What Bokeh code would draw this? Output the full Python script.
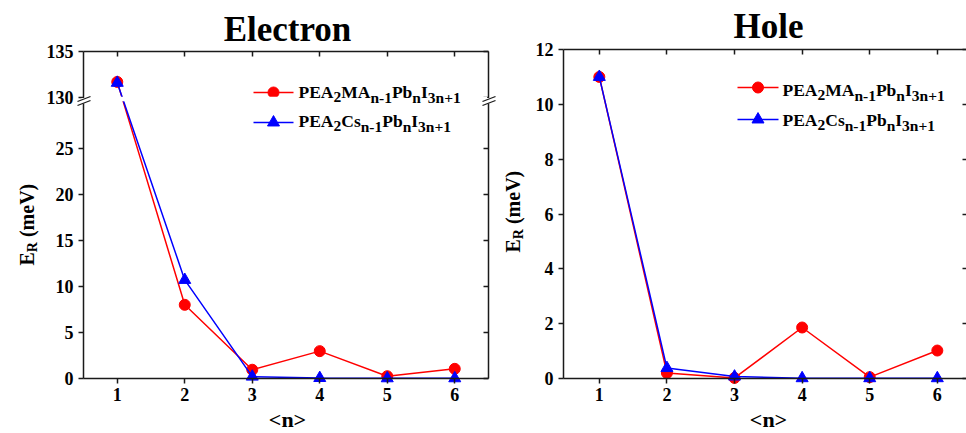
import numpy as np
from bokeh.plotting import figure
from bokeh.models import (LinearAxis, FixedTicker, Label, Arrow, BoxAnnotation,
                          Range1d, Grid)
from bokeh.layouts import row
from bokeh.embed import file_html
from bokeh.resources import INLINE

# ---------------- data ----------------
n_values = [1, 2, 3, 4, 5, 6]
electron_ma = [131.7, 8.0, 0.95, 2.97, 0.25, 1.05]
electron_cs = [131.6, 10.7, 0.2, 0.05, 0.02, 0.02]
hole_ma = [11.0, 0.2, 0.02, 1.86, 0.05, 1.02]
hole_cs = [11.0, 0.38, 0.07, 0.01, 0.01, 0.01]
x_ticks = [1, 2, 3, 4, 5, 6]
electron_y_ticks = [0, 5, 10, 15, 20, 25, 130, 135]
hole_y_ticks = [0, 2, 4, 6, 8, 10, 12]
titles = ["Electron", "Hole"]
x_title = "<n>"
series_names = [[("PEA", 0), ("2", 1), ("MA", 0), ("n-1", 1), ("Pb", 0), ("n", 1), ("I", 0), ("3n+1", 1)],
                [("PEA", 0), ("2", 1), ("Cs", 0), ("n-1", 1), ("Pb", 0), ("n", 1), ("I", 0), ("3n+1", 1)]]

FONT = "Liberation Serif"
RED = "#ff0000"
BLUE = "#0000ff"
AXIS = "#1a1a1a"
H = 433
BASELINE_FIX = 0.34   # observed offset of the alphabetic baseline, in em

# broken electron axis: lower 0..30, upper 130..135
BREAK_LO = 30.0
BREAK_SHIFT = 99.5


def broken(v):
    return v if v <= BREAK_LO else v - BREAK_SHIFT


# Times-Bold advance widths (per 1000 em), metric-compatible with Liberation Serif Bold
W = {'P': 611, 'E': 667, 'A': 722, 'M': 944, 'C': 722, 's': 389, 'n': 556, '-': 333,
     '1': 500, 'b': 556, 'I': 389, '3': 500, '+': 570, '2': 500, ' ': 250, '(': 333,
     ')': 333, 'm': 833, 'e': 444, 'V': 722, 'R': 722}


def tw(text, size):
    return sum(W.get(c, 500) for c in text) * size / 1000.0


class Panel:
    """Figure whose frame fills the whole canvas; axes sit at fixed locations."""

    def __init__(self, origin, width, box, xin, yin):
        bl, br, bt, bb = box
        self.origin, self.width = origin, width
        xpx = (xin[1] - xin[0]) / (br - bl)
        ypx = (yin[1] - yin[0]) / (bb - bt)
        self.x0 = xin[0] - (bl - origin) * xpx
        self.x1 = xin[0] + (origin + width - bl) * xpx
        self.y1 = yin[1] + bt * ypx
        self.y0 = yin[0] - (H - bb) * ypx
        self.xin, self.yin = xin, yin
        p = figure(width=width, height=H, x_range=Range1d(self.x0, self.x1),
                   y_range=Range1d(self.y0, self.y1),
                   output_backend="svg", toolbar_location=None,
                   x_axis_location=None, y_axis_location=None,
                   min_border=0, min_border_left=0, min_border_right=0,
                   min_border_top=0, min_border_bottom=0)
        p.outline_line_color = None
        p.center = [r for r in p.center if not isinstance(r, Grid)]
        p.background_fill_color = "white"
        p.border_fill_color = "white"
        self.p = p

    def X(self, cx):
        return self.x0 + (cx - self.origin) / self.width * (self.x1 - self.x0)

    def Y(self, cy):
        return self.y1 - cy / H * (self.y1 - self.y0)

    def text(self, cx, cy, txt, size, align="left", baseline="alphabetic", angle=0.0):
        if baseline == "alphabetic":
            if angle == 0.0:
                cy -= BASELINE_FIX * size
            else:
                cx -= BASELINE_FIX * size
        self.p.add_layout(Label(x=self.X(cx), y=self.Y(cy), text=txt, text_font=FONT,
                                text_font_size=f"{size}px", text_font_style="bold",
                                text_color="black", text_align=align,
                                text_baseline=baseline, angle=angle))

    def seg(self, x0, y0, x1, y1, color=AXIS, width=1.3):
        self.p.add_layout(Arrow(end=None, x_start=self.X(x0), y_start=self.Y(y0),
                                x_end=self.X(x1), y_end=self.Y(y1),
                                line_color=color, line_width=width))


def make_axis(ticks, loc, bounds, labels=True, tin=0, tout=5, line=True,
              overrides=None, standoff=5):
    ax = LinearAxis(fixed_location=loc, bounds=bounds)
    ax.ticker = FixedTicker(ticks=ticks)
    ax.minor_tick_line_color = None
    ax.major_tick_in = tin
    ax.major_tick_out = tout
    ax.major_tick_line_color = AXIS
    ax.major_tick_line_width = 1.5
    ax.axis_line_color = AXIS if line else None
    ax.axis_line_width = 1.5
    if labels:
        ax.major_label_text_font = FONT
        ax.major_label_text_font_size = "18px"
        ax.major_label_text_font_style = "bold"
        ax.major_label_text_color = "black"
        ax.major_label_standoff = standoff
    else:
        ax.major_label_text_color = None
    if overrides:
        ax.major_label_overrides = overrides
    return ax


def add_axes(pn, yticks, right_x, overrides=None, right_line=True):
    p = pn.p
    xb = (pn.xin[0], right_x)
    yb = (pn.yin[0], pn.yin[1])
    p.add_layout(make_axis(x_ticks, pn.yin[0], xb, tout=5, standoff=4), "below")
    p.add_layout(make_axis(x_ticks, pn.yin[1], xb, labels=False, tin=5, tout=0), "above")
    p.add_layout(make_axis(yticks, pn.xin[0], yb, tout=5, overrides=overrides, standoff=5), "left")
    p.add_layout(make_axis(yticks, right_x, yb, labels=False, tin=5, tout=0,
                           line=right_line), "right")


def legend(pn, x_line0, x_line1, x_text, rows):
    for (line_y, base_y, color, marker, runs) in rows:
        xs = [pn.X(x_line0), pn.X(x_line1)]
        ys = [pn.Y(line_y)] * 2
        pn.p.line(xs, ys, line_color=color, line_width=1.5)
        pn.p.scatter([pn.X((x_line0 + x_line1) / 2)], [pn.Y(line_y)], marker=marker,
                     size=11 if marker == "circle" else 12, fill_color=color, line_color=color)
        cx = x_text
        for txt, sub in runs:
            size = 15.5 if sub else 17.5
            pn.text(cx, base_y + (5 if sub else 0), txt, size)
            cx += tw(txt, size)


def ylabel(pn, base_x, start_y):
    a = np.pi / 2
    pn.text(base_x, start_y, "E", 20, angle=a)
    y = start_y - tw("E", 20)
    pn.text(base_x + 4, y, "R", 14, angle=a)
    y -= tw("R", 14) + tw(" ", 20)
    pn.text(base_x, y, "(meV)", 20, angle=a)


# ---------------- left panel: Electron ----------------
L = Panel(0, 500, (83, 488, 51, 378), (0.5, 6.5), (0.0, broken(135)))
pl = L.p
ov = {broken(v): str(v) for v in electron_y_ticks}
add_axes(L, [broken(v) for v in electron_y_ticks], 6.5, overrides=ov)

pl.line(n_values, [broken(v) for v in electron_ma], line_color=RED, line_width=1.5)
pl.scatter(n_values, [broken(v) for v in electron_ma], marker="circle", size=11,
           fill_color=RED, line_color=RED)
pl.line(n_values, [broken(v) for v in electron_cs], line_color=BLUE, line_width=1.5)
pl.scatter(n_values, [broken(v) for v in electron_cs], marker="triangle", size=12,
           fill_color=BLUE, line_color=BLUE)

# gap in the lines at the axis break
pl.add_layout(BoxAnnotation(left=0.52, right=6.48, bottom=30.1, top=30.6,
                            fill_color="white", fill_alpha=1.0, line_color=None))
# break marks on both vertical axes
for ax_x in (83, 488):
    L.seg(ax_x, 97.5, ax_x, 103.0, color="white", width=4)
    L.seg(ax_x - 6, 101, ax_x + 7, 96)
    L.seg(ax_x - 6, 105, ax_x + 7, 100)

L.text(287, 41, titles[0], 35, align="center")
L.text(287, 419, x_title, 22, align="center", baseline="middle")
ylabel(L, 33, 265)
legend(L, 253, 293, 298, [(92, 97, RED, "circle", series_names[0]),
                          (122, 126, BLUE, "triangle", series_names[1])])

# ---------------- right panel: Hole ----------------
R = Panel(500, 466, (563, 563 + 6 * 67.6, 49, 378), (0.47, 6.47), (0.0, 12.0))
pr = R.p
right_edge = R.X(967)
add_axes(R, hole_y_ticks, right_edge, right_line=False)

pr.line(n_values, hole_ma, line_color=RED, line_width=1.5)
pr.scatter(n_values, hole_ma, marker="circle", size=11, fill_color=RED, line_color=RED)
pr.line(n_values, hole_cs, line_color=BLUE, line_width=1.5)
pr.scatter(n_values, hole_cs, marker="triangle", size=12, fill_color=BLUE, line_color=BLUE)

R.text(768, 38, titles[1], 35, align="center")
R.text(768, 419, x_title, 22, align="center", baseline="middle")
ylabel(R, 519, 252)
legend(R, 737, 778, 782, [(87, 95, RED, "circle", series_names[0]),
                          (119, 125, BLUE, "triangle", series_names[1])])

layout = row(pl, pr)
open("out.html", "w").write(file_html(layout, INLINE))
